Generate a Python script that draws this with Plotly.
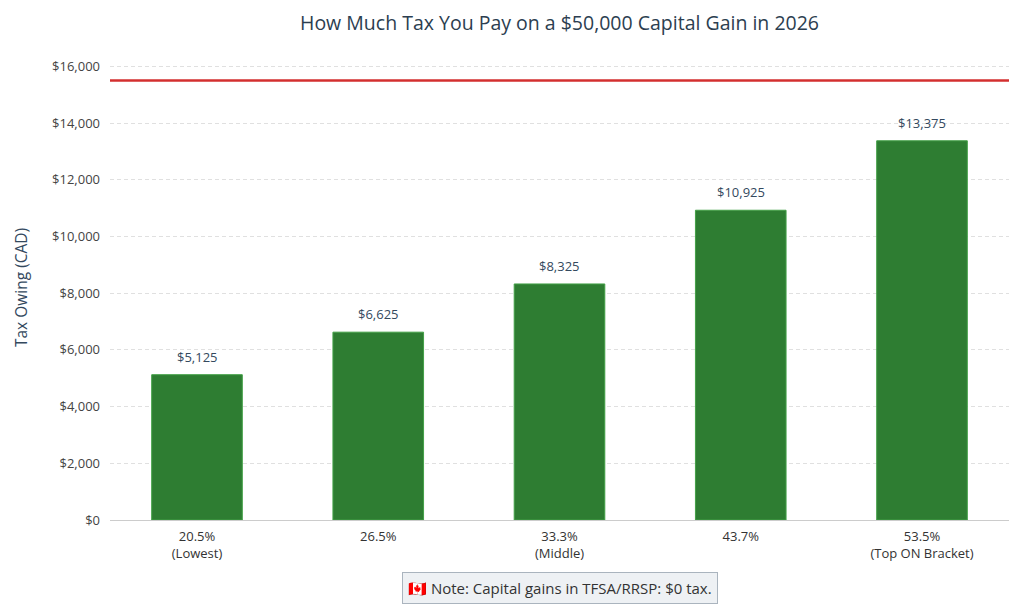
import plotly.graph_objects as go

categories = ["20.5%<br>(Lowest)", "26.5%", "33.3%<br>(Middle)", "43.7%", "53.5%<br>(Top ON Bracket)"]
tax_owing = [5125, 6625, 8325, 10925, 13375]
ref_line = 15500
y_ticks = [0, 2000, 4000, 6000, 8000, 10000, 12000, 14000, 16000]
title = "How Much Tax You Pay on a $50,000 Capital Gain in 2026"
note = "🇨🇦 Note: Capital gains in TFSA/RRSP: $0 tax."

FONT = "Open Sans"

fig = go.Figure()
fig.add_trace(go.Bar(
    x=categories, y=tax_owing,
    width=0.5,
    marker=dict(color="#2e7d32", line=dict(color="#43a047", width=1)),
    showlegend=False,
    hoverinfo="skip",
))

for c, v in zip(categories, tax_owing):
    fig.add_annotation(
        x=c, y=v, text=f"${v:,.0f}", showarrow=False,
        xanchor="center", yanchor="bottom", yshift=7,
        font=dict(family=FONT, size=13, color="#34495e"),
    )

fig.add_shape(type="line", xref="paper", yref="y", x0=0, x1=1, y0=ref_line, y1=ref_line,
              line=dict(color="#d32f2f", width=2.5))

fig.add_annotation(
    text=note, xref="paper", yref="paper", x=0.5, y=-0.112, xanchor="center", yanchor="top",
    showarrow=False, font=dict(family=FONT, size=15, color="#333333"),
    bgcolor="#eef1f4", bordercolor="#aab4be", borderwidth=1, borderpad=5,
)

fig.update_layout(
    width=1024, height=614,
    margin=dict(l=110, r=15, t=55, b=94),
    paper_bgcolor="white", plot_bgcolor="white",
    font=dict(family=FONT, color="#333333"),
    title=dict(text=title, x=0.5, xref="paper", xanchor="center", y=0.962, yanchor="middle",
               font=dict(family=FONT, size=19.5, color="#2c3e50")),
    xaxis=dict(
        range=[-0.48, 4.48],
        tickfont=dict(family=FONT, size=13, color="#333333"),
        showline=True, linecolor="#cccccc", linewidth=1,
        showgrid=False, ticks="", ticklabelstandoff=4,
    ),
    yaxis=dict(
        range=[0, 16400],
        tickvals=y_ticks,
        ticktext=[f"${v:,.0f}" for v in y_ticks],
        tickfont=dict(family=FONT, size=13, color="#444444"),
        showgrid=True, gridcolor="#e0e0e0", griddash="4px,3px", gridwidth=1,
        zeroline=True, zerolinecolor="#cccccc", zerolinewidth=1,
        title=dict(text="Tax Owing (CAD)", font=dict(family=FONT, size=15.5, color="#34495e"), standoff=20),
        ticks="", ticklabelstandoff=9,
    ),
    bargap=0.5,
)

fig.write_html("out.html", config={"displayModeBar": False},
               post_script="document.body.style.margin='0';")
